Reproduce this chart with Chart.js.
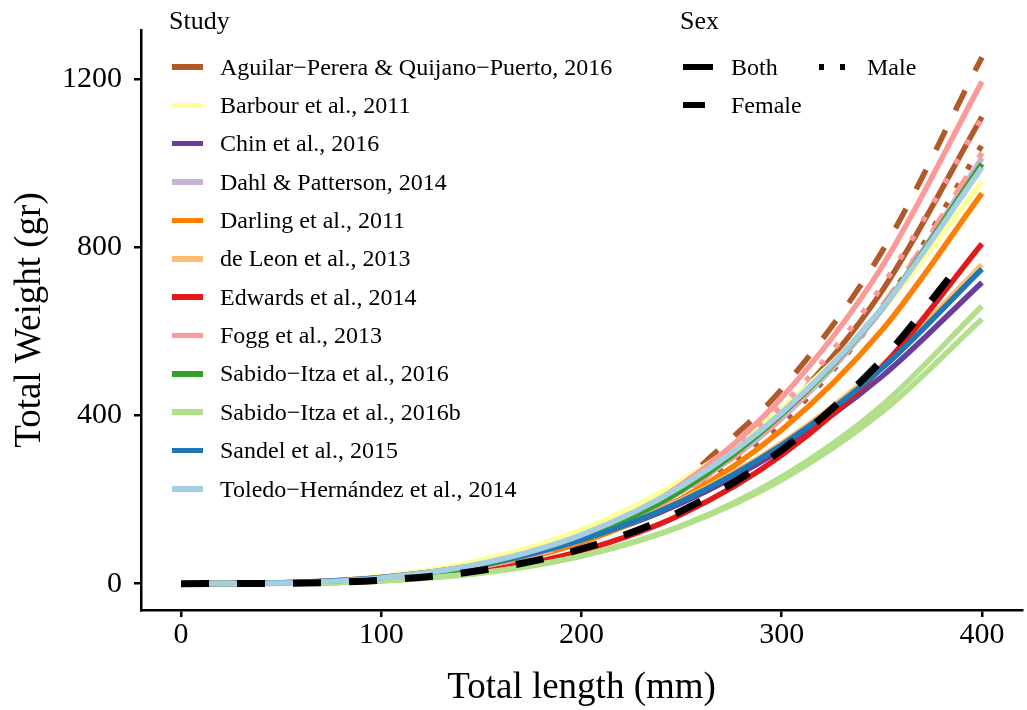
<!DOCTYPE html>
<html>
<head>
<meta charset="utf-8">
<script src="https://cdn.jsdelivr.net/npm/chart.js@4.4.0/dist/chart.umd.min.js"></script>
<style>
  body { margin: 0; background: #fff; }
  #wrap { position: relative; width: 1027px; height: 710px; }
  #chart { position: absolute; left: 0; top: 0; }
  .lg { position: absolute; white-space: nowrap; font-family: "Liberation Serif", serif; color: #000; }
  .key { position: absolute; }
</style>
</head>
<body>
<div id="wrap">
  <canvas id="chart" width="1027" height="710"></canvas>
  <div id="legend"></div>
</div>
<script>
// tick labels
const xTicks = [0, 100, 200, 300, 400]
const yTicks = [0, 400, 800, 1200]

// total length (mm) where the curves were read
const lengths = [0, 50, 100, 150, 200, 250, 300, 350, 400]
const aguilarLengths = [260, 300, 350, 400]
const overallLengths = [0, 50, 100, 150, 200, 250, 300, 350, 392]

// total weight (gr)
const aguilarBoth = [246, 406, 696, 1111]
const aguilarFemale = [282, 463, 790, 1253]
const aguilarMale = [231, 381, 654, 1044]
const barbour = [0, 2.3, 17.2, 55.7, 128, 245, 416, 650, 957]
const chin = [0, 2.1, 14.8, 46, 103, 192, 320, 493, 717]
const dahl = [0, 1.2, 11.2, 41.8, 106, 220, 393, 652, 1013]
const darling = [0, 1.1, 10.4, 38.7, 98, 203, 366, 603, 929]
const deLeon = [0, 2.0, 14.6, 46, 105, 199, 334, 519, 759]
const edwards = [0, 0.7, 7.5, 29.4, 78, 165, 306, 515, 809]
const foggBoth = [0, 0.9, 10.0, 40.5, 109, 236, 443, 754, 1195]
const foggFemale = [0, 1.1, 10.6, 40.3, 104, 217, 397, 660, 1025]
const foggMale = [0, 1.0, 10.7, 41.5, 109, 229, 423, 708, 1108]
const sabido = [0, 1.3, 11.8, 43.3, 109, 222, 403, 655, 999]
const sabidoB1 = [0, 0.65, 6.5, 25.2, 65.8, 138, 254, 424, 661]
const sabidoB2 = [0, 0.73, 7.0, 26, 66.2, 137, 247, 408, 630]
const sandel = [0, 2.0, 14.4, 45.8, 104, 196, 330, 512, 749]
const toledo = [0, 1.6, 13.7, 47.8, 116, 232, 407, 655, 990]
// black dashed overall curve
const overall = [0, 0.8, 8.2, 31.7, 82.6, 173, 318, 532, 778]

const studies = [
    'Aguilar−Perera & Quijano−Puerto, 2016',
    'Barbour et al., 2011',
    'Chin et al., 2016',
    'Dahl & Patterson, 2014',
    'Darling et al., 2011',
    'de Leon et al., 2013',
    'Edwards et al., 2014',
    'Fogg et al., 2013',
    'Sabido−Itza et al., 2016',
    'Sabido−Itza et al., 2016b',
    'Sandel et al., 2015',
    'Toledo−Hernández et al., 2014'
]
const studyColors = ['#b15928', '#ffff99', '#6a3d9a', '#cab2d6', '#ff7f00', '#fdbf6f',
    '#e31a1c', '#fb9a99', '#33a02c', '#b2df8a', '#1f78b4', '#a6cee3']

// one entry per curve, in drawing order (later ones on top)
const series = [
    { study: 0, sex: 'Both', x: aguilarLengths, y: aguilarBoth },
    { study: 0, sex: 'Female', x: aguilarLengths, y: aguilarFemale },
    { study: 0, sex: 'Male', x: aguilarLengths, y: aguilarMale },
    { study: 1, sex: 'Both', x: lengths, y: barbour },
    { study: 2, sex: 'Both', x: lengths, y: chin },
    { study: 3, sex: 'Both', x: lengths, y: dahl },
    { study: 4, sex: 'Both', x: lengths, y: darling },
    { study: 5, sex: 'Both', x: lengths, y: deLeon },
    { study: 6, sex: 'Both', x: lengths, y: edwards },
    { study: 7, sex: 'Both', x: lengths, y: foggBoth },
    { study: 7, sex: 'Female', x: lengths, y: foggFemale },
    { study: 7, sex: 'Male', x: lengths, y: foggMale },
    { study: 8, sex: 'Both', x: lengths, y: sabido },
    { study: 9, sex: 'Both', x: lengths, y: sabidoB1 },
    { study: 9, sex: 'Both', x: lengths, y: sabidoB2 },
    { study: 10, sex: 'Both', x: lengths, y: sandel },
    { study: 11, sex: 'Both', x: lengths, y: toledo }
]

const dashBySex = { Both: [], Female: [22, 22], Male: [5.5, 16.5] }
const serif = 'Liberation Serif'

const datasets = series.map((s, i) => ({
    data: s.x.map((x, j) => ({ x: x, y: s.y[j] })),
    borderColor: studyColors[s.study],
    borderWidth: 5.5,
    borderDash: dashBySex[s.sex],
    order: series.length - i + 1
}))
datasets.push({
    data: overallLengths.map((x, j) => ({ x: x, y: overall[j] })),
    borderColor: '#000',
    borderWidth: 7,
    borderDash: [28, 28],
    order: 0
})

const axisGrid = { display: true, drawOnChartArea: false, drawTicks: true, tickLength: 7, color: '#000', lineWidth: 2.5 }
const axisBorder = { display: true, color: '#000', width: 2.5 }

new Chart(document.getElementById('chart'), {
    type: 'line',
    data: { datasets: datasets },
    options: {
        responsive: false,
        animation: false,
        devicePixelRatio: 1,
        layout: { autoPadding: false, padding: { top: 18, right: 5, left: 0, bottom: 0 } },
        elements: {
            point: { radius: 0 },
            line: { cubicInterpolationMode: 'monotone', fill: false, borderCapStyle: 'butt' }
        },
        plugins: { legend: { display: false }, tooltip: { enabled: false } },
        scales: {
            x: {
                type: 'linear',
                min: -20,
                max: 420,
                afterBuildTicks: s => { s.ticks = xTicks.map(v => ({ value: v })) },
                afterFit: s => { s.height = 100 },
                ticks: { font: { family: serif, size: 30 }, color: '#000', padding: 0, maxRotation: 0, callback: v => String(v) },
                grid: axisGrid,
                border: axisBorder,
                title: { display: true, text: 'Total length (mm)', color: '#000', font: { family: serif, size: 37 }, padding: { top: 0, bottom: 0 } }
            },
            y: {
                type: 'linear',
                min: -62.75,
                max: 1317.75,
                afterBuildTicks: s => { s.ticks = yTicks.map(v => ({ value: v })) },
                afterFit: s => { s.width = 141 },
                ticks: { font: { family: serif, size: 30 }, color: '#000', padding: 12, callback: v => String(v) },
                grid: axisGrid,
                border: axisBorder,
                title: { display: true, text: 'Total Weight (gr)', color: '#000', font: { family: serif, size: 37 }, padding: { top: 8, bottom: 0 } }
            }
        }
    }
});

// legend drawn as html on top of the plot
const legendBox = document.getElementById('legend')

const addText = (txt, x, yc, size) => {
    const d = document.createElement('div')
    d.className = 'lg'
    d.textContent = txt
    d.style.left = x + 'px'
    d.style.top = (yc - size * 0.6) + 'px'
    d.style.fontSize = size + 'px'
    d.style.lineHeight = (size * 1.2) + 'px'
    legendBox.appendChild(d)
}
const addKey = (x, yc, w, bg) => {
    const k = document.createElement('div')
    k.className = 'key'
    k.style.left = x + 'px'
    k.style.top = (yc - 2.75) + 'px'
    k.style.width = w + 'px'
    k.style.height = '5.5px'
    k.style.background = bg
    legendBox.appendChild(k)
}

addText('Study', 169, 21, 26)
studies.forEach((name, i) => {
    const yc = 67 + i * 38.36
    addKey(172, yc, 31, studyColors[i])
    addText(name, 220, yc, 24)
})

addText('Sex', 680, 21, 26)
addKey(683, 67, 30, '#000')
addText('Both', 731, 67, 24)
addKey(819, 67, 30, 'repeating-linear-gradient(to right, #000 0 5.5px, transparent 5.5px 21px)')
addText('Male', 867, 67, 24)
addKey(683, 105, 30, 'linear-gradient(to right, #000 0 22px, transparent 22px)')
addText('Female', 731, 105, 24)
</script>
</body>
</html>
